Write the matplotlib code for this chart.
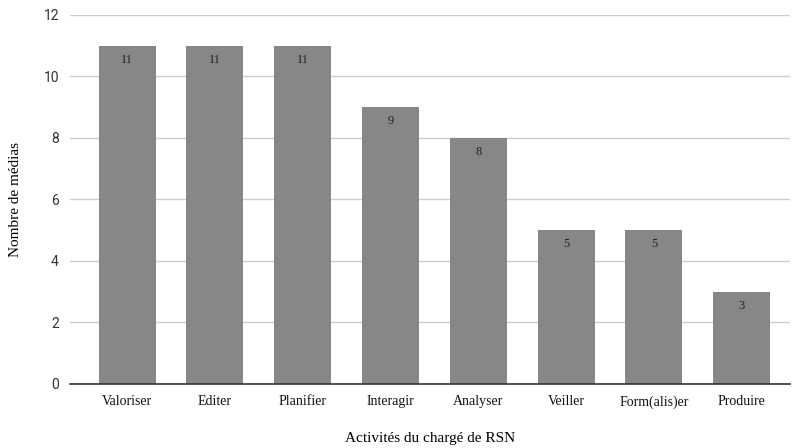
import matplotlib.pyplot as plt

categories = ['Valoriser', 'Editer', 'Planifier', 'Interagir', 'Analyser', 'Veiller', 'Form(alis)er', 'Produire']
values = [11, 11, 11, 9, 8, 5, 5, 3]
yticks = [0, 2, 4, 6, 8, 10, 12]

serif = ['Liberation Serif', 'DejaVu Serif']

fig = plt.figure(figsize=(8, 4.48), dpi=100)
ax = fig.add_axes([0.0875, 0.143, 0.9, 0.824])

x = range(len(categories))
bars = ax.bar(x, values, width=0.65, color='#878787', zorder=3)

for b, v in zip(bars, values):
    ax.annotate(str(v), (b.get_x() + b.get_width() / 2, v), xytext=(0, -6),
                textcoords='offset points', ha='center', va='top',
                fontsize=9, family=serif, color='#222222', zorder=4)

ax.set_ylim(0, 12)
ax.set_xlim(-0.65, 7.55)
ax.set_yticks(yticks)
ax.set_yticklabels([str(t) for t in yticks], family='Roboto', fontsize=10, color='#333333')
ax.set_xticks(list(x))
ax.set_xticklabels(categories, family=serif, fontsize=10, color='#111111')
ax.tick_params(length=0, pad=8)
ax.tick_params(axis='y', pad=8)

ax.grid(axis='y', color='#cccccc', linewidth=1, zorder=0)
for s in ['top', 'right', 'left']:
    ax.spines[s].set_visible(False)
ax.spines['bottom'].set_color('#333333')
ax.spines['bottom'].set_linewidth(1.2)
ax.spines['bottom'].set_zorder(5)

fig.text(0.019, 0.555, 'Nombre de médias', family=serif, fontsize=11,
         rotation=90, ha='center', va='center')
fig.text(0.5375, 0.022, 'Activités du chargé de RSN', family=serif, fontsize=11,
         ha='center', va='center')

fig.savefig('out.png', dpi=100)
